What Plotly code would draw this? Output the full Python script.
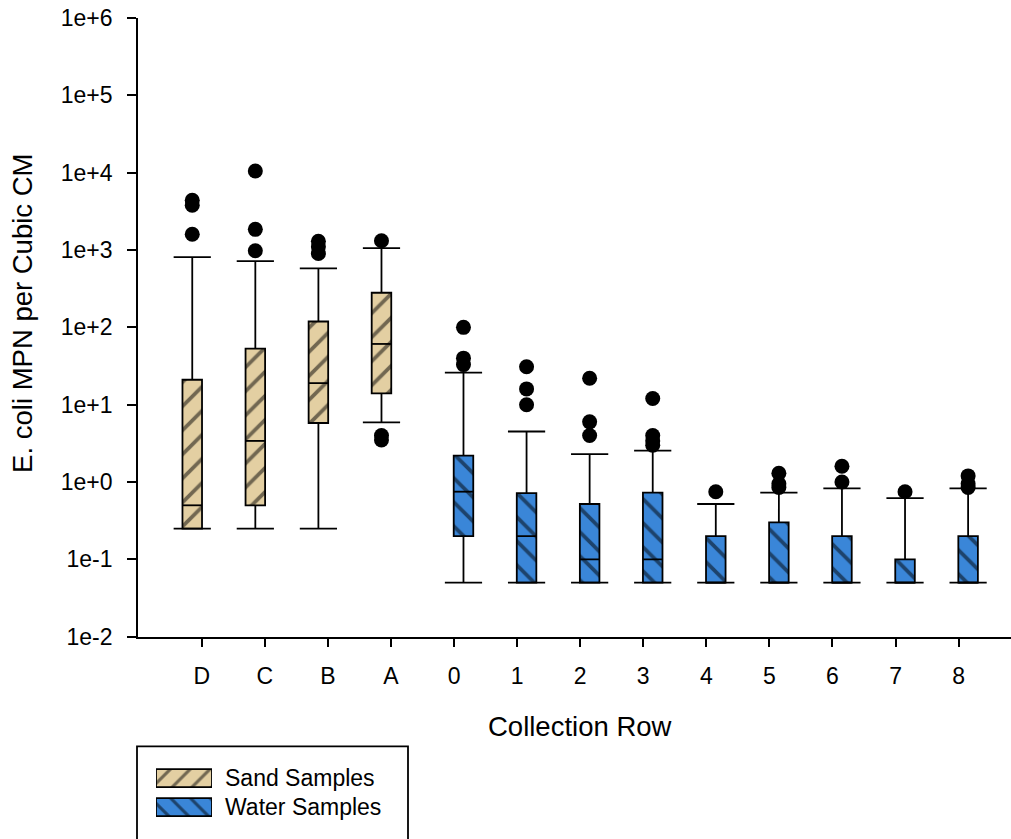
import plotly.graph_objects as go

# ---------------- data ----------------
sand_rows = ["D", "C", "B", "A"]
water_rows = ["0", "1", "2", "3", "4", "5", "6", "7", "8"]
tick_labels = sand_rows + water_rows

sand_lower = [0.25, 0.25, 0.25, 5.9]
sand_q1 = [0.25, 0.5, 5.8, 14]
sand_median = [0.5, 3.4, 19, 61]
sand_q3 = [21, 53, 119, 280]
sand_upper = [810, 720, 580, 1060]
sand_outliers = [[4400, 3800, 1600], [10500, 1850, 980], [1300, 1100, 900], [1320, 4.0, 3.5]]

water_lower = [0.05, 0.05, 0.05, 0.05, 0.05, 0.05, 0.05, 0.05, 0.05]
water_q1 = [0.2, 0.05, 0.05, 0.05, 0.05, 0.05, 0.05, 0.05, 0.05]
water_median = [0.75, 0.2, 0.1, 0.1, 0.05, 0.05, 0.05, 0.05, 0.05]
water_q3 = [2.2, 0.72, 0.52, 0.73, 0.2, 0.3, 0.2, 0.1, 0.2]
water_upper = [26, 4.5, 2.3, 2.55, 0.52, 0.73, 0.83, 0.62, 0.83]
water_outliers = [[100, 40, 33], [31, 16, 10], [22, 6.0, 4.0], [12, 4.0, 3.4, 3.0], [0.75],
                  [1.3, 0.95, 0.85], [1.6, 1.0], [0.75], [1.2, 0.95, 0.85]]

y_tick_vals = [1e-2, 1e-1, 1e0, 1e1, 1e2, 1e3, 1e4, 1e5, 1e6]
y_tick_text = ["1e-2", "1e-1", "1e+0", "1e+1", "1e+2", "1e+3", "1e+4", "1e+5", "1e+6"]

# ---------------- styling ----------------
TAN = "#E3CFA2"
BLUE = "#3A86D8"
FONT = "Arial, Liberation Sans, sans-serif"
BOX_W = 0.31
CAP_HALF = 0.295
OFFSET = 0.15
LW = 1.8

n_sand = len(sand_rows)
sand_x = [i - OFFSET for i in range(n_sand)]
water_x = [n_sand + i + OFFSET for i in range(len(water_rows))]


def hatch(color, shape, size):
    return dict(shape=shape, fgcolor="black", bgcolor=color,
                size=size, solidity=0.22, fillmode="overlay")


def box_bar(xs, q1, q3, color, shape):
    return go.Bar(
        x=xs, y=[b - a for a, b in zip(q1, q3)], base=q1, width=BOX_W,
        marker=dict(color=color, line=dict(color="black", width=LW),
                    pattern=hatch(color, shape, 17)),
        showlegend=False, hoverinfo="skip",
    )


def box_lines(xs, lo, q1, med, q3, hi):
    lx, ly = [], []
    for x, l, a, m, b, h in zip(xs, lo, q1, med, q3, hi):
        lx += [x, x, None, x, x, None, x - CAP_HALF, x + CAP_HALF, None,
               x - CAP_HALF, x + CAP_HALF, None, x - BOX_W / 2, x + BOX_W / 2, None]
        ly += [b, h, None, a, l, None, h, h, None, l, l, None, m, m, None]
    return go.Scatter(x=lx, y=ly, mode="lines", line=dict(color="black", width=LW),
                      showlegend=False, hoverinfo="skip")


def outlier_pts(xs, outs):
    ox, oy = [], []
    for x, vals in zip(xs, outs):
        for v in vals:
            ox.append(x)
            oy.append(v)
    return go.Scatter(x=ox, y=oy, mode="markers",
                      marker=dict(color="black", size=15, symbol="circle"),
                      showlegend=False)


fig = go.Figure()
fig.add_trace(box_bar(sand_x, sand_q1, sand_q3, TAN, "/"))
fig.add_trace(box_bar(water_x, water_q1, water_q3, BLUE, "\\"))
fig.add_trace(box_lines(sand_x, sand_lower, sand_q1, sand_median, sand_q3, sand_upper))
fig.add_trace(box_lines(water_x, water_lower, water_q1, water_median, water_q3, water_upper))
fig.add_trace(outlier_pts(sand_x, sand_outliers))
fig.add_trace(outlier_pts(water_x, water_outliers))

# legend swatches drawn on a small helper axis so the hatching shows
legend_names = ["Sand Samples", "Water Samples"]
for ypos, color, shape in [(1, TAN, "/"), (0, BLUE, "\\")]:
    fig.add_trace(go.Bar(
        x=[1], y=[ypos], base=[0], orientation="h", width=0.62,
        marker=dict(color=color, line=dict(color="black", width=LW),
                    pattern=hatch(color, shape, 14)),
        xaxis="x2", yaxis="y2", showlegend=False, hoverinfo="skip",
    ))

W, H = 1011, 839
L, R, T, B = 138, 0, 18, 10
plot_h = H - T - B
plot_w = W - L - R


def py(px):
    return (H - B - px) / plot_h


def pxx(px):
    return (px - L) / plot_w


axis_font = dict(family=FONT, size=23, color="black")

fig.update_layout(
    width=W, height=H,
    margin=dict(l=L, r=R, t=T, b=B),
    paper_bgcolor="white", plot_bgcolor="white",
    barmode="overlay",
    showlegend=False,
    font=dict(family=FONT, color="black"),
    xaxis=dict(
        range=[-1.01, 12.83], tickmode="array",
        tickvals=list(range(len(tick_labels))), ticktext=tick_labels,
        showline=True, linecolor="black", linewidth=LW,
        ticks="outside", ticklen=8, tickwidth=LW, tickcolor="black",
        showgrid=False, zeroline=False, tickfont=axis_font,
        ticklabelstandoff=10, anchor="y",
    ),
    yaxis=dict(
        type="log", range=[-2, 6], domain=[py(639), 1.0],
        tickmode="array", tickvals=y_tick_vals, ticktext=y_tick_text,
        showline=True, linecolor="black", linewidth=LW,
        ticks="outside", ticklen=9, tickwidth=LW, tickcolor="black",
        showgrid=False, zeroline=False, tickfont=axis_font,
        ticklabelstandoff=10, anchor="x",
    ),
    xaxis2=dict(domain=[pxx(156), pxx(212)], range=[0, 1], visible=False, anchor="y2"),
    yaxis2=dict(domain=[py(824.5), py(766.5)], range=[-0.5, 1.5], visible=False, anchor="x2"),
)

# axis titles
fig.add_annotation(text="Collection Row", xref="paper", yref="paper",
                   x=pxx(580), y=py(729), xanchor="center", yanchor="middle",
                   showarrow=False, font=dict(family=FONT, size=27.5, color="black"))
fig.add_annotation(text="E. coli MPN per Cubic CM", xref="paper", yref="paper",
                   x=pxx(23), y=py(315), xanchor="center", yanchor="middle",
                   showarrow=False, textangle=-90,
                   font=dict(family=FONT, size=27.5, color="black"))

# legend frame and labels
fig.add_shape(type="rect", xref="paper", yref="paper",
              x0=pxx(137), x1=pxx(408), y0=py(860), y1=py(749),
              line=dict(color="black", width=LW), fillcolor="rgba(0,0,0,0)")
for name, ycen in zip(legend_names, [781, 810]):
    fig.add_annotation(text=name, xref="paper", yref="paper",
                       x=pxx(223), y=py(ycen), xanchor="left", yanchor="middle",
                       showarrow=False, font=dict(family=FONT, size=23, color="black"))

fig.write_html("out.html")
